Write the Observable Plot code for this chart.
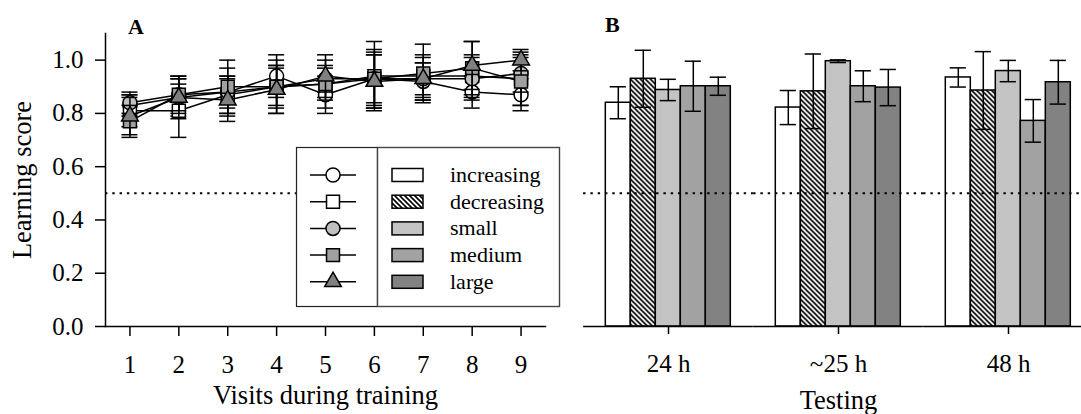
<!DOCTYPE html>
<html><head><meta charset="utf-8">
<script src="https://cdn.jsdelivr.net/npm/d3@7"></script>
<script src="https://cdn.jsdelivr.net/npm/@observablehq/plot@0.6"></script>
<style>
html,body{margin:0;padding:0;background:#fff;overflow:hidden;}
#wrap{position:relative;width:1081px;height:414px;font-family:"Liberation Serif",serif;color:#000;}
#panelA{position:absolute;left:0;top:0;}
#panelB{position:absolute;left:560px;top:0;}
#legend{position:absolute;left:296px;top:147px;}
.plabel{position:absolute;font-weight:bold;font-size:22px;line-height:22px;}
g[aria-label="x-axis label"], g[aria-label="y-axis label"], g[aria-label="fx-axis label"]{font-size:26.5px;}
</style></head><body>
<svg width="0" height="0" style="position:absolute">
<defs><pattern id="hatch" patternUnits="userSpaceOnUse" width="5" height="5">
<path d="M-1,-1L6,6M-1,4L1,6M4,-1L6,1" stroke="#000" stroke-width="1.6"/></pattern></defs></svg>
<div id="wrap">
<div id="panelA"></div>
<div id="panelB"></div>
<div id="legend"></div>
<div class="plabel" style="left:128px;top:16px">A</div>
<div class="plabel" style="left:605px;top:14px">B</div>
</div>
<script>
// ---------- data ----------
const seriesNames = ["increasing", "decreasing", "small", "medium", "large"];
const visits = [1, 2, 3, 4, 5, 6, 7, 8, 9];
const yTicks = [0, 0.2, 0.4, 0.6, 0.8, 1.0];
const chanceLevel = [0.5];

// Panel A: learning score during training (mean and error)
const trainIncreasing    = [0.83, 0.86, 0.88, 0.94, 0.87, 0.93, 0.92, 0.88, 0.87];
const trainIncreasingErr = [0.04, 0.07, 0.09, 0.08, 0.07, 0.10, 0.07, 0.06, 0.06];
const trainDecreasing    = [0.81, 0.81, 0.87, 0.90, 0.91, 0.94, 0.94, 0.94, 0.93];
const trainDecreasingErr = [0.06, 0.10, 0.07, 0.08, 0.09, 0.13, 0.08, 0.08, 0.10];
const trainSmall         = [0.84, 0.87, 0.88, 0.90, 0.93, 0.93, 0.93, 0.93, 0.95];
const trainSmallErr      = [0.04, 0.06, 0.06, 0.10, 0.05, 0.09, 0.06, 0.08, 0.07];
const trainMedium        = [0.77, 0.87, 0.90, 0.90, 0.91, 0.93, 0.95, 0.97, 0.92];
const trainMediumErr     = [0.06, 0.07, 0.10, 0.07, 0.06, 0.11, 0.11, 0.10, 0.09];
const trainLarge         = [0.79, 0.86, 0.85, 0.89, 0.94, 0.92, 0.93, 0.98, 1.00];
const trainLargeErr      = [0.07, 0.08, 0.08, 0.09, 0.08, 0.10, 0.08, 0.09, 0.04];

// Panel B: testing
const testTimes = ["24 h", "~25 h", "48 h"];
const testIncreasing    = [0.840, 0.822, 0.935];
const testIncreasingErr = [0.060, 0.064, 0.036];
const testDecreasing    = [0.930, 0.883, 0.886];
const testDecreasingErr = [0.107, 0.140, 0.146];
const testSmall         = [0.888, 0.996, 0.959];
const testSmallErr      = [0.040, 0.005, 0.040];
const testMedium        = [0.902, 0.902, 0.772];
const testMediumErr     = [0.094, 0.058, 0.080];
const testLarge         = [0.902, 0.897, 0.917];
const testLargeErr      = [0.034, 0.068, 0.082];

// ---------- styles ----------
const trainStyle = {
  increasing: {symbol: "circle", r: 7,   fill: "#ffffff"},
  decreasing: {symbol: "square", r: 7.3, fill: "#ffffff"},
  small:      {symbol: "circle", r: 7,   fill: "#c0c0c0"},
  medium:     {symbol: "square", r: 7.3, fill: "#a0a0a0"},
  large:      {symbol: "triangle", r: 6.2, fill: "#808080"}
};
const barFill = {
  increasing: "#ffffff", decreasing: "url(#hatch)", small: "#c3c3c3",
  medium: "#a2a2a2", large: "#828282"
};

const trainMeans = [trainIncreasing, trainDecreasing, trainSmall, trainMedium, trainLarge];
const trainErrs = [trainIncreasingErr, trainDecreasingErr, trainSmallErr, trainMediumErr, trainLargeErr];
const testMeans = [testIncreasing, testDecreasing, testSmall, testMedium, testLarge];
const testErrs = [testIncreasingErr, testDecreasingErr, testSmallErr, testMediumErr, testLargeErr];

const font = {fontFamily: "Liberation Serif", fontSize: "25px", color: "#000", background: "transparent"};

// ---------- panel A ----------
const seriesMarks = [];
seriesNames.forEach((s, k) => {
  const rows = visits.map((v, i) => ({
    series: s, visit: v, mean: trainMeans[k][i],
    lo: trainMeans[k][i] - trainErrs[k][i], hi: trainMeans[k][i] + trainErrs[k][i]
  }));
  const st = trainStyle[s];
  seriesMarks.push(
    Plot.ruleX(rows, {x: "visit", y1: "lo", y2: "hi", stroke: "#000", strokeWidth: 1.5}),
    Plot.ruleY(rows, {x1: "visit", x2: "visit", y: "lo", insetLeft: -8, insetRight: -8, stroke: "#000", strokeWidth: 1.5}),
    Plot.ruleY(rows, {x1: "visit", x2: "visit", y: "hi", insetLeft: -8, insetRight: -8, stroke: "#000", strokeWidth: 1.5}),
    Plot.line(rows, {x: "visit", y: "mean", stroke: "#000", strokeWidth: 1.5}),
    Plot.dot(rows, {x: "visit", y: "mean", symbol: st.symbol, r: st.r, fill: st.fill, stroke: "#000", strokeWidth: 1.5})
  );
});

const plotA = Plot.plot({
  width: 560, height: 414,
  marginLeft: 105, marginRight: 15, marginTop: 33, marginBottom: 88,
  style: font,
  x: {domain: [0.5, 9.5]},
  y: {domain: [0, 1.1]},
  marks: [
    Plot.ruleY(chanceLevel, {stroke: "#000", strokeWidth: 2, strokeDasharray: "2.4,4.9"}),
    ...seriesMarks,
    Plot.frame({anchor: "left", strokeWidth: 1.5}),
    Plot.frame({anchor: "bottom", strokeWidth: 1.5}),
    Plot.axisY({ticks: yTicks, tickFormat: d3.format(".1f"), tickSize: 10, tickPadding: 12, strokeWidth: 1.5,
      label: "Learning score", labelArrow: "none", labelAnchor: "center", labelOffset: 93}),
    Plot.axisX({ticks: visits, tickFormat: d3.format("d"), tickSize: 10, tickPadding: 19, strokeWidth: 1.5,
      label: "Visits during training", labelArrow: "none", labelAnchor: "center", labelOffset: 77})
  ]
});
document.getElementById("panelA").appendChild(plotA);

// ---------- panel B ----------
const testRows = [];
seriesNames.forEach((s, k) => {
  testTimes.forEach((t, i) => {
    testRows.push({series: s, time: t, mean: testMeans[k][i],
      lo: testMeans[k][i] - testErrs[k][i], hi: testMeans[k][i] + testErrs[k][i]});
  });
});

const plotB = Plot.plot({
  width: 521, height: 414,
  marginLeft: 42.7, marginRight: 8, marginTop: 33, marginBottom: 88,
  style: font,
  fx: {domain: testTimes, paddingInner: 0.245, paddingOuter: 0},
  x: {domain: seriesNames, padding: 0, axis: null},
  y: {domain: [0, 1.1], axis: null},
  color: {type: "identity"},
  marks: [
    Plot.barY(testRows, {fx: "time", x: "series", y: "mean", fill: d => barFill[d.series], stroke: "#000", strokeWidth: 1.5}),
    Plot.ruleX(testRows, {fx: "time", x: "series", y1: "lo", y2: "hi", stroke: "#000", strokeWidth: 1.5}),
    Plot.tickY(testRows, {fx: "time", x: "series", y: "lo", insetLeft: 4.4, insetRight: 4.4, stroke: "#000", strokeWidth: 1.5}),
    Plot.tickY(testRows, {fx: "time", x: "series", y: "hi", insetLeft: 4.4, insetRight: 4.4, stroke: "#000", strokeWidth: 1.5}),
    Plot.ruleY(chanceLevel, {insetLeft: -20.9, insetRight: -20.9, stroke: "#000", strokeWidth: 2, strokeDasharray: "2.4,4.9"}),
    Plot.ruleY([0], {insetLeft: -20.9, insetRight: -20.9, stroke: "#000", strokeWidth: 1.5}),
    Plot.axisFx({anchor: "bottom", tickSize: 8, tickPadding: 20, strokeWidth: 1.5,
      label: "Testing", labelArrow: "none", labelAnchor: "center", labelOffset: 82})
  ]
});
document.getElementById("panelB").appendChild(plotB);

// ---------- legend ----------
const leg = d3.select("#legend").append("svg").attr("width", 265).attr("height", 161)
  .style("font-family", "'Liberation Serif', serif").style("overflow", "visible");
leg.append("rect").attr("x", 0.5).attr("y", 0.5).attr("width", 81).attr("height", 159)
  .attr("fill", "#fff").attr("stroke", "#222").attr("stroke-width", 1.2);
leg.append("rect").attr("x", 81.5).attr("y", 0.5).attr("width", 182).attr("height", 159)
  .attr("fill", "#fff").attr("stroke", "#444").attr("stroke-width", 1.4);
const symMap = {circle: d3.symbolCircle, square: d3.symbolSquare, triangle: d3.symbolTriangle};
seriesNames.forEach((s, i) => {
  const cy = 28 + i * 26.7;
  const st = trainStyle[s];
  leg.append("line").attr("x1", 14).attr("x2", 60).attr("y1", cy).attr("y2", cy)
    .attr("stroke", "#000").attr("stroke-width", 1.5);
  leg.append("path").attr("d", d3.symbol(symMap[st.symbol], st.r * st.r * Math.PI)())
    .attr("transform", `translate(37,${cy})`).attr("fill", st.fill)
    .attr("stroke", "#000").attr("stroke-width", 1.5);
  leg.append("rect").attr("x", 96).attr("y", cy - 6.5).attr("width", 31).attr("height", 13)
    .attr("fill", barFill[s]).attr("stroke", "#000").attr("stroke-width", 1.5);
  leg.append("text").attr("x", 154).attr("y", cy).attr("dy", "0.32em")
    .attr("font-size", 22).text(s);
});
</script>
</body></html>
